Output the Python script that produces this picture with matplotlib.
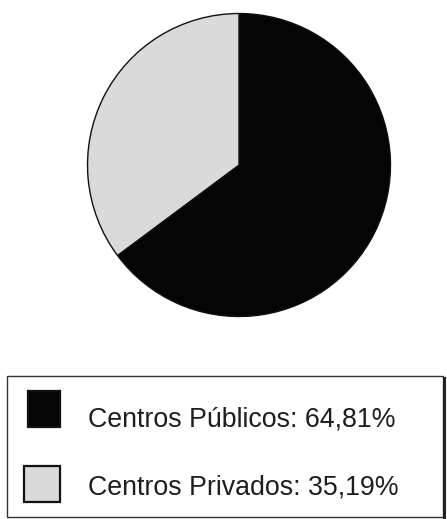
"""Pie chart: share of public vs private centres."""
import matplotlib

matplotlib.use("Agg")
import matplotlib.patches as mpatches
import matplotlib.pyplot as plt

labels = ["Centros Públicos", "Centros Privados"]
shares = [64.81, 35.19]
colors = ["#050505", "#dadada"]

W, H = 447, 519
INK = "#1e1e1e"

fig = plt.figure(figsize=(W / 100, H / 100), dpi=100)
fig.patch.set_facecolor("white")

# pie in its own square axes (pixel centre 239,165, radius 153)
cx, cy, r = 239, 165, 153
pax = fig.add_axes([(cx - r) / W, 1 - (cy + r) / H, 2 * r / W, 2 * r / H])
wedges, _ = pax.pie(shares, colors=colors, startangle=90, counterclock=False,
                    radius=1, wedgeprops=dict(edgecolor="#111111", linewidth=1.0))
pax.set_xlim(-1.01, 1.01)
pax.set_ylim(-1.01, 1.01)
pax.set_aspect("equal")
pax.axis("off")

# legend drawn in pixel coordinates
ax = fig.add_axes([0, 0, 1, 1])
ax.set_xlim(0, W)
ax.set_ylim(H, 0)
ax.axis("off")

ax.add_patch(mpatches.Rectangle((7, 376), 436, 141, facecolor="none",
                                edgecolor="#333333", linewidth=1.0))
ax.plot([444, 444], [378, 517], color="#222222", lw=2.2)

boxes = [(28, 391, 32, 36), (24, 466, 36, 36)]
baselines = [426, 495]
for (bx, by, bw, bh), col, lab, val, base in zip(boxes, colors, labels, shares, baselines):
    ax.add_patch(mpatches.Rectangle((bx, by), bw, bh, facecolor=col,
                                    edgecolor="#111111", linewidth=1.6))
    txt = f"{lab}: {val:.2f}%".replace(".", ",")
    ax.text(88, base, txt, ha="left", va="baseline", fontsize=19.3,
            family=["Liberation Sans", "DejaVu Sans"], color=INK)

fig.savefig("out.png", dpi=100, facecolor="white")
plt.close(fig)
